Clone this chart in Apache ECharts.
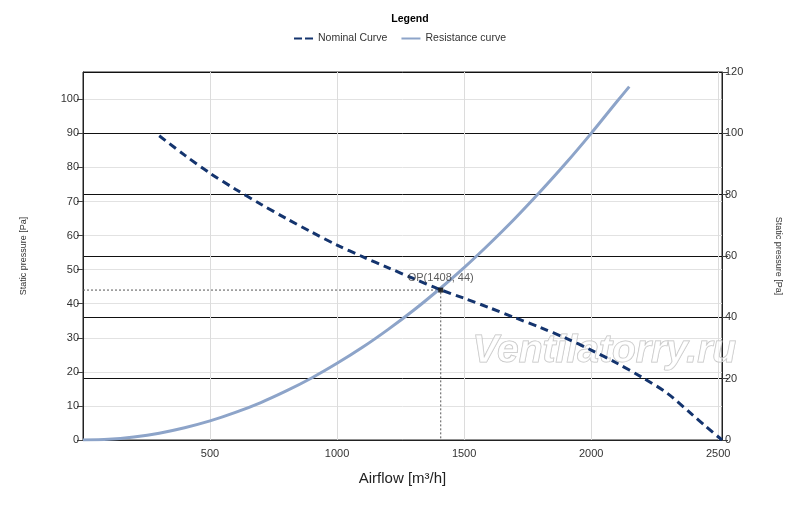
<!DOCTYPE html>
<html>
<head>
<meta charset="utf-8">
<script src="https://cdn.jsdelivr.net/npm/echarts@6/dist/echarts.min.js"></script>
<style>
html,body{margin:0;padding:0;background:#fff;}
#chart{width:800px;height:507px;}
</style>
</head>
<body>
<div id="chart"></div>
<script>
// Nominal fan curve: airflow [m3/h] and static pressure [Pa]
const nominalFlow = [300, 400, 500, 600, 700, 800, 900, 1000, 1100, 1200, 1300, 1400, 1500, 1600, 1700, 1800, 1900, 2000, 2100, 2200, 2300, 2400, 2450, 2515];
const nominalPa   = [89.3, 83.6, 78.3, 73.6, 69.2, 65.0, 61.0, 57.2, 53.8, 50.6, 47.4, 44.3, 41.6, 38.8, 35.9, 33.0, 29.9, 26.4, 22.6, 18.4, 13.7, 7.3, 4.1, 0];
// Resistance curve
const resistFlow = [0, 100, 200, 300, 400, 500, 600, 700, 800, 900, 1000, 1100, 1200, 1300, 1400, 1500, 1600, 1700, 1800, 1900, 2000, 2100, 2150];
const resistPa   = [0, 0.2, 0.9, 2.0, 3.6, 5.6, 8.1, 11.0, 14.4, 18.2, 22.5, 27.2, 32.4, 38.0, 44.1, 50.6, 57.6, 65.0, 72.9, 81.2, 90.0, 99.2, 103.7];
// Operating point
const opFlow = 1408;
const opPa = 44;
// Axis ticks
const xTicks = [500, 1000, 1500, 2000, 2500];
const leftTicks = [0, 10, 20, 30, 40, 50, 60, 70, 80, 90, 100];

const nominalData = nominalFlow.map((f, i) => [f, nominalPa[i]]);
const resistData = resistFlow.map((f, i) => [f, resistPa[i]]);

const FONT = 'Liberation Sans';
const plain = v => String(v);
const chart = echarts.init(document.getElementById('chart'), null, {renderer: 'canvas'});
chart.setOption({
  animation: false,
  backgroundColor: '#fff',
  textStyle: {fontFamily: FONT},
  title: {
    text: 'Legend', left: 405, top: 9, textAlign: 'center',
    textStyle: {fontSize: 10.5, fontWeight: 'bold', color: '#000', fontFamily: FONT}
  },
  legend: {
    top: 28, left: 'center', itemWidth: 19, itemHeight: 8, itemGap: 14,
    textStyle: {fontSize: 10.5, color: '#333', fontFamily: FONT},
    data: [
      {name: 'Nominal Curve', icon: 'path://M0,3L8,3L8,5L0,5Z M11,3L19,3L19,5L11,5Z'},
      {name: 'Resistance curve', icon: 'path://M0,3L19,3L19,5L0,5Z'}
    ]
  },
  grid: {left: 83, right: 78, top: 72, bottom: 67, show: true, borderColor: '#222', borderWidth: 1, backgroundColor: 'transparent'},
  xAxis: {
    type: 'value', min: 0, max: 2515, interval: 500,
    name: 'Airflow [m³/h]', nameLocation: 'middle', nameGap: 31,
    nameTextStyle: {fontSize: 15, color: '#222', fontFamily: FONT},
    axisLine: {show: true, lineStyle: {color: '#222', width: 1}},
    axisTick: {show: false},
    axisLabel: {customValues: xTicks, formatter: plain, fontSize: 11, color: '#333', margin: 8, fontFamily: FONT},
    splitLine: {show: true, lineStyle: {color: '#dcdcdc', width: 1}}
  },
  yAxis: [
    {
      type: 'value', min: 0, max: 108, interval: 10, position: 'left',
      name: 'Static pressure [Pa]', nameLocation: 'middle', nameGap: 55, nameRotate: 90,
      nameTextStyle: {fontSize: 9, color: '#333', fontFamily: FONT},
      axisLine: {show: true, lineStyle: {color: '#222', width: 1}},
      axisTick: {show: true, length: 6, customValues: leftTicks, lineStyle: {color: '#444'}},
      axisLabel: {customValues: leftTicks, formatter: plain, fontSize: 11, color: '#333', margin: 4, fontFamily: FONT},
      splitLine: {show: true, lineStyle: {color: '#e2e2e2', width: 1}}
    },
    {
      type: 'value', min: 0, max: 120, interval: 20, position: 'right',
      name: 'Static pressure [Pa]', nameLocation: 'middle', nameGap: 52, nameRotate: -90,
      nameTextStyle: {fontSize: 9, color: '#333', fontFamily: FONT},
      axisLine: {show: true, lineStyle: {color: '#222', width: 1}},
      axisTick: {show: true, length: 6, lineStyle: {color: '#444'}},
      axisLabel: {formatter: plain, fontSize: 11, color: '#333', margin: 3, fontFamily: FONT},
      splitLine: {show: true, lineStyle: {color: '#111', width: 1}}
    }
  ],
  graphic: [{
    type: 'text', left: 472, top: 331, z: 1, silent: true,
    style: {
      text: 'Ventilatorry.ru',
      font: 'italic bold 39px "Liberation Sans"',
      fill: 'rgba(255,255,255,0.5)', stroke: '#c0c0c0', lineWidth: 1
    }
  }],
  series: [
    {
      name: 'Nominal Curve', type: 'line', yAxisIndex: 0, data: nominalData,
      smooth: 0.3, showSymbol: false, symbol: 'none', z: 5,
      lineStyle: {color: '#14346e', width: 3, type: [8, 5]},
      itemStyle: {color: '#14346e'}
    },
    {
      name: 'Resistance curve', type: 'line', yAxisIndex: 0, data: resistData,
      smooth: 0.3, showSymbol: false, symbol: 'none', z: 4,
      lineStyle: {color: '#8da4c9', width: 3},
      itemStyle: {color: '#8da4c9'}
    },
    {
      name: 'OP lines', type: 'line', yAxisIndex: 0,
      data: [[0, opPa], [opFlow, opPa], [opFlow, 0]],
      showSymbol: false, symbol: 'none', z: 3, silent: true,
      lineStyle: {color: '#555', width: 1, type: [2, 2]}
    },
    {
      name: 'OP', type: 'scatter', yAxisIndex: 0, data: [[opFlow, opPa]],
      symbol: 'rect', symbolSize: 5, z: 6, silent: true,
      itemStyle: {color: '#000'},
      label: {show: true, position: 'top', distance: 4, formatter: 'OP(' + opFlow + ', ' + opPa + ')', fontSize: 11, color: '#333', fontFamily: FONT}
    }
  ]
});
</script>
</body>
</html>
